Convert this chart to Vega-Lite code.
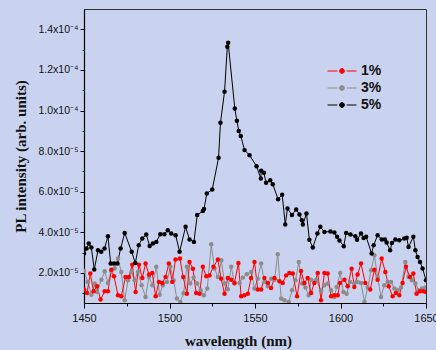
{
  "$schema": "https://vega.github.io/schema/vega-lite/v6.json",
  "width": 342,
  "height": 294,
  "autosize": "none",
  "padding": {"left": 84, "top": 9, "right": 10, "bottom": 47},
  "background": "#c9d3ef",
  "config": {
    "view": {"stroke": "#333333", "strokeWidth": 1},
    "axis": {"labelFont": "Liberation Sans", "titleFont": "Liberation Serif", "titleFontWeight": "bold", "titleFontSize": 15, "labelColor": "#111111", "titleColor": "#111111", "domainColor": "#000000", "tickColor": "#000000", "domainWidth": 1.2, "tickWidth": 1, "grid": false}
  },
  "data": {"values": [
    {"s":"3%","w":1450,"I":2.1},{"s":"3%","w":1452.3,"I":1.56},{"s":"3%","w":1454.3,"I":0.93},{"s":"3%","w":1456.3,"I":1.48},{"s":"3%","w":1457.6,"I":1.06},{"s":"3%","w":1460.2,"I":1.67},{"s":"3%","w":1462.1,"I":2.08},{"s":"3%","w":1464,"I":1.51},{"s":"3%","w":1466,"I":2.1},{"s":"3%","w":1467.9,"I":2.22},{"s":"3%","w":1469.9,"I":2.71},{"s":"3%","w":1471.8,"I":2.05},{"s":"3%","w":1473.8,"I":0.65},{"s":"3%","w":1475.7,"I":1.64},{"s":"3%","w":1477.7,"I":2.05},{"s":"3%","w":1479.6,"I":1.64},{"s":"3%","w":1481.5,"I":2.05},{"s":"3%","w":1483.7,"I":1.4},{"s":"3%","w":1486,"I":0.82},{"s":"3%","w":1488,"I":1.8},{"s":"3%","w":1490,"I":1.39},{"s":"3%","w":1492.3,"I":2.3},{"s":"3%","w":1494.2,"I":0.93},{"s":"3%","w":1496.1,"I":1.39},{"s":"3%","w":1498.5,"I":1.56},{"s":"3%","w":1500.5,"I":2.3},{"s":"3%","w":1502.4,"I":1.64},{"s":"3%","w":1504.3,"I":0.74},{"s":"3%","w":1506.3,"I":0.57},{"s":"3%","w":1508.2,"I":1.0},{"s":"3%","w":1510.2,"I":2.3},{"s":"3%","w":1512.1,"I":1.48},{"s":"3%","w":1514.1,"I":1.77},{"s":"3%","w":1516.2,"I":1.48},{"s":"3%","w":1518.2,"I":1.15},{"s":"3%","w":1520.1,"I":0.9},{"s":"3%","w":1522.1,"I":1.23},{"s":"3%","w":1524.4,"I":3.41},{"s":"3%","w":1526.3,"I":2.22},{"s":"3%","w":1528.3,"I":1.8},{"s":"3%","w":1530.3,"I":2.63},{"s":"3%","w":1532.2,"I":1.48},{"s":"3%","w":1534.1,"I":1.2},{"s":"3%","w":1536.1,"I":2.3},{"s":"3%","w":1538,"I":1.48},{"s":"3%","w":1541,"I":1.51},{"s":"3%","w":1542.9,"I":1.77},{"s":"3%","w":1545.2,"I":1.94},{"s":"3%","w":1547.8,"I":2.05},{"s":"3%","w":1549.7,"I":1.23},{"s":"3%","w":1551.6,"I":1.72},{"s":"3%","w":1553.6,"I":2.46},{"s":"3%","w":1555.5,"I":1.56},{"s":"3%","w":1557.5,"I":1.34},{"s":"3%","w":1559.5,"I":1.72},{"s":"3%","w":1561.4,"I":1.67},{"s":"3%","w":1563.3,"I":2.92},{"s":"3%","w":1565.3,"I":0.74},{"s":"3%","w":1567.2,"I":0.65},{"s":"3%","w":1569.7,"I":0.57},{"s":"3%","w":1571.7,"I":1.15},{"s":"3%","w":1573.7,"I":1.64},{"s":"3%","w":1575.6,"I":2.54},{"s":"3%","w":1577.6,"I":1.48},{"s":"3%","w":1579.5,"I":1.28},{"s":"3%","w":1581.4,"I":0.9},{"s":"3%","w":1582.8,"I":1.67},{"s":"3%","w":1585.7,"I":1.64},{"s":"3%","w":1588.7,"I":1.15},{"s":"3%","w":1590.6,"I":1.39},{"s":"3%","w":1592.5,"I":1.48},{"s":"3%","w":1594.5,"I":1.15},{"s":"3%","w":1596.4,"I":0.82},{"s":"3%","w":1597.8,"I":1.31},{"s":"3%","w":1599.8,"I":2.0},{"s":"3%","w":1601.7,"I":1.06},{"s":"3%","w":1603.6,"I":0.98},{"s":"3%","w":1605.6,"I":1.56},{"s":"3%","w":1608.1,"I":1.48},{"s":"3%","w":1610,"I":1.56},{"s":"3%","w":1612,"I":1.51},{"s":"3%","w":1614,"I":0.57},{"s":"3%","w":1615.9,"I":1.28},{"s":"3%","w":1617.9,"I":2.13},{"s":"3%","w":1619.8,"I":2.87},{"s":"3%","w":1621.7,"I":1.8},{"s":"3%","w":1623.7,"I":0.82},{"s":"3%","w":1625.6,"I":1.39},{"s":"3%","w":1627.6,"I":1.56},{"s":"3%","w":1629.6,"I":1.56},{"s":"3%","w":1631.5,"I":1.23},{"s":"3%","w":1633.4,"I":1.15},{"s":"3%","w":1635.4,"I":1.28},{"s":"3%","w":1637.9,"I":2.54},{"s":"3%","w":1639.8,"I":1.8},{"s":"3%","w":1641.8,"I":1.64},{"s":"3%","w":1643.8,"I":1.48},{"s":"3%","w":1645.7,"I":1.15},{"s":"3%","w":1647.7,"I":1.23},{"s":"3%","w":1649.6,"I":1.28},
    {"s":"1%","w":1450,"I":1.18},{"s":"1%","w":1451.8,"I":1.01},{"s":"1%","w":1453.7,"I":1.97},{"s":"1%","w":1455.6,"I":1.1},{"s":"1%","w":1457.6,"I":1.34},{"s":"1%","w":1459.7,"I":0.69},{"s":"1%","w":1462.1,"I":1.1},{"s":"1%","w":1464,"I":1.1},{"s":"1%","w":1466,"I":2.16},{"s":"1%","w":1467.5,"I":1.84},{"s":"1%","w":1469.9,"I":0.9},{"s":"1%","w":1471.8,"I":0.85},{"s":"1%","w":1474.3,"I":1.8},{"s":"1%","w":1476.3,"I":1.8},{"s":"1%","w":1478.2,"I":2.41},{"s":"1%","w":1480.2,"I":1.06},{"s":"1%","w":1482.1,"I":2.41},{"s":"1%","w":1484.1,"I":1.75},{"s":"1%","w":1486,"I":2.46},{"s":"1%","w":1488,"I":1.92},{"s":"1%","w":1489.9,"I":2.0},{"s":"1%","w":1491.9,"I":0.85},{"s":"1%","w":1493.8,"I":1.56},{"s":"1%","w":1495.8,"I":1.51},{"s":"1%","w":1497.7,"I":1.8},{"s":"1%","w":1499.6,"I":2.46},{"s":"1%","w":1501.6,"I":1.56},{"s":"1%","w":1503.5,"I":2.66},{"s":"1%","w":1506.1,"I":2.71},{"s":"1%","w":1508,"I":1.8},{"s":"1%","w":1510.2,"I":0.98},{"s":"1%","w":1511.7,"I":2.54},{"s":"1%","w":1513.7,"I":2.21},{"s":"1%","w":1515.6,"I":1.01},{"s":"1%","w":1517.6,"I":0.98},{"s":"1%","w":1519.5,"I":2.3},{"s":"1%","w":1521.5,"I":1.84},{"s":"1%","w":1523.4,"I":1.88},{"s":"1%","w":1525.7,"I":2.3},{"s":"1%","w":1528.3,"I":2.66},{"s":"1%","w":1530.2,"I":1.72},{"s":"1%","w":1532.2,"I":0.98},{"s":"1%","w":1534.1,"I":1.75},{"s":"1%","w":1536.1,"I":1.67},{"s":"1%","w":1538,"I":1.51},{"s":"1%","w":1540.3,"I":2.49},{"s":"1%","w":1541.9,"I":0.85},{"s":"1%","w":1543.8,"I":0.9},{"s":"1%","w":1545.8,"I":0.98},{"s":"1%","w":1547.7,"I":1.75},{"s":"1%","w":1549.7,"I":2.54},{"s":"1%","w":1551.6,"I":1.18},{"s":"1%","w":1553.6,"I":1.18},{"s":"1%","w":1555.5,"I":1.75},{"s":"1%","w":1557.5,"I":1.51},{"s":"1%","w":1559.4,"I":1.26},{"s":"1%","w":1561.4,"I":1.75},{"s":"1%","w":1564.3,"I":1.59},{"s":"1%","w":1566.2,"I":1.51},{"s":"1%","w":1568.2,"I":1.88},{"s":"1%","w":1570.1,"I":2.0},{"s":"1%","w":1572.1,"I":1.97},{"s":"1%","w":1574.6,"I":0.85},{"s":"1%","w":1576.9,"I":2.1},{"s":"1%","w":1578.9,"I":1.51},{"s":"1%","w":1580.8,"I":1.75},{"s":"1%","w":1582.8,"I":1.01},{"s":"1%","w":1584.7,"I":1.51},{"s":"1%","w":1586.7,"I":2.0},{"s":"1%","w":1588.6,"I":0.65},{"s":"1%","w":1590.6,"I":2.0},{"s":"1%","w":1592.5,"I":1.97},{"s":"1%","w":1594.5,"I":0.85},{"s":"1%","w":1596.4,"I":0.9},{"s":"1%","w":1598.4,"I":0.9},{"s":"1%","w":1599.7,"I":1.51},{"s":"1%","w":1602.3,"I":1.67},{"s":"1%","w":1604.2,"I":1.34},{"s":"1%","w":1606.5,"I":2.21},{"s":"1%","w":1608.1,"I":1.31},{"s":"1%","w":1610,"I":1.92},{"s":"1%","w":1612,"I":2.46},{"s":"1%","w":1614.5,"I":1.51},{"s":"1%","w":1617.4,"I":1.18},{"s":"1%","w":1619.8,"I":2.16},{"s":"1%","w":1621.7,"I":1.67},{"s":"1%","w":1624.1,"I":2.71},{"s":"1%","w":1626.2,"I":2.05},{"s":"1%","w":1628.2,"I":1.34},{"s":"1%","w":1630.5,"I":0.85},{"s":"1%","w":1632.4,"I":1.01},{"s":"1%","w":1634.4,"I":0.9},{"s":"1%","w":1636.3,"I":1.51},{"s":"1%","w":1638.3,"I":2.3},{"s":"1%","w":1640.6,"I":1.8},{"s":"1%","w":1642.6,"I":1.97},{"s":"1%","w":1644.5,"I":0.98},{"s":"1%","w":1646.5,"I":1.1},{"s":"1%","w":1648.4,"I":1.1},{"s":"1%","w":1650,"I":1.06},
    {"s":"5%","w":1450,"I":2.96},{"s":"5%","w":1451.5,"I":3.2},{"s":"5%","w":1452.8,"I":3.45},{"s":"5%","w":1454.3,"I":3.25},{"s":"5%","w":1456,"I":2.17},{"s":"5%","w":1458.2,"I":3.12},{"s":"5%","w":1460.1,"I":3.04},{"s":"5%","w":1462,"I":3.2},{"s":"5%","w":1464,"I":3.81},{"s":"5%","w":1465.6,"I":2.46},{"s":"5%","w":1467.5,"I":2.46},{"s":"5%","w":1469.5,"I":2.46},{"s":"5%","w":1471.4,"I":3.2},{"s":"5%","w":1473.8,"I":3.97},{"s":"5%","w":1477.9,"I":3.04},{"s":"5%","w":1480,"I":2.49},{"s":"5%","w":1482,"I":3.37},{"s":"5%","w":1484.1,"I":3.7},{"s":"5%","w":1486.4,"I":3.89},{"s":"5%","w":1488.4,"I":3.33},{"s":"5%","w":1490.3,"I":3.45},{"s":"5%","w":1492.3,"I":3.53},{"s":"5%","w":1494.6,"I":3.91},{"s":"5%","w":1497,"I":3.91},{"s":"5%","w":1499,"I":4.1},{"s":"5%","w":1501,"I":3.94},{"s":"5%","w":1503.6,"I":3.86},{"s":"5%","w":1505.9,"I":3.04},{"s":"5%","w":1509.4,"I":4.27},{"s":"5%","w":1511.7,"I":3.65},{"s":"5%","w":1514.3,"I":3.53},{"s":"5%","w":1516.2,"I":4.85},{"s":"5%","w":1519.5,"I":5.05},{"s":"5%","w":1520.2,"I":5.15},{"s":"5%","w":1521.8,"I":5.91},{"s":"5%","w":1525,"I":6.11},{"s":"5%","w":1528.7,"I":7.67},{"s":"5%","w":1529.8,"I":9.4},{"s":"5%","w":1532.2,"I":10.93},{"s":"5%","w":1533.8,"I":13.14},{"s":"5%","w":1534.3,"I":13.34},{"s":"5%","w":1538.2,"I":10.1},{"s":"5%","w":1539.4,"I":9.5},{"s":"5%","w":1540.5,"I":8.99},{"s":"5%","w":1541.7,"I":8.74},{"s":"5%","w":1543.9,"I":8.05},{"s":"5%","w":1546.8,"I":7.8},{"s":"5%","w":1550.9,"I":7.26},{"s":"5%","w":1553.4,"I":6.65},{"s":"5%","w":1553.6,"I":7.03},{"s":"5%","w":1555.2,"I":6.93},{"s":"5%","w":1556.5,"I":6.44},{"s":"5%","w":1558.9,"I":6.57},{"s":"5%","w":1560.4,"I":6.37},{"s":"5%","w":1563.5,"I":5.63},{"s":"5%","w":1565.9,"I":5.85},{"s":"5%","w":1567.7,"I":4.39},{"s":"5%","w":1569,"I":5.18},{"s":"5%","w":1571.6,"I":4.85},{"s":"5%","w":1574.1,"I":5.13},{"s":"5%","w":1576,"I":4.88},{"s":"5%","w":1577.4,"I":4.6},{"s":"5%","w":1578,"I":4.39},{"s":"5%","w":1580.1,"I":4.93},{"s":"5%","w":1581.8,"I":3.63},{"s":"5%","w":1583.8,"I":3.25},{"s":"5%","w":1586.5,"I":3.94},{"s":"5%","w":1588.2,"I":4.27},{"s":"5%","w":1590.6,"I":4.02},{"s":"5%","w":1594.1,"I":4.04},{"s":"5%","w":1596.4,"I":3.99},{"s":"5%","w":1598,"I":3.78},{"s":"5%","w":1599.4,"I":3.6},{"s":"5%","w":1601.9,"I":3.32},{"s":"5%","w":1603.3,"I":3.97},{"s":"5%","w":1605.8,"I":3.89},{"s":"5%","w":1608.7,"I":3.81},{"s":"5%","w":1609.7,"I":3.63},{"s":"5%","w":1612,"I":3.94},{"s":"5%","w":1613.5,"I":3.72},{"s":"5%","w":1615,"I":3.78},{"s":"5%","w":1618.2,"I":2.96},{"s":"5%","w":1619.4,"I":3.37},{"s":"5%","w":1621.7,"I":3.86},{"s":"5%","w":1624.1,"I":3.65},{"s":"5%","w":1626,"I":3.65},{"s":"5%","w":1627,"I":3.5},{"s":"5%","w":1629,"I":3.12},{"s":"5%","w":1630.1,"I":3.48},{"s":"5%","w":1632.1,"I":3.65},{"s":"5%","w":1634.4,"I":3.61},{"s":"5%","w":1637.3,"I":3.7},{"s":"5%","w":1638.7,"I":3.73},{"s":"5%","w":1639.8,"I":3.28},{"s":"5%","w":1642.6,"I":3.78},{"s":"5%","w":1643.8,"I":3.12},{"s":"5%","w":1645.1,"I":2.79},{"s":"5%","w":1646.5,"I":2.54},{"s":"5%","w":1648,"I":2.22},{"s":"5%","w":1650,"I":1.64}
  ]},
  "encoding": {
    "x": {"field": "w", "type": "quantitative", "scale": {"domain": [1450, 1650], "nice": false, "zero": false},
      "axis": {"title": "wavelength (nm)", "values": [1450,1475,1500,1525,1550,1575,1600,1625,1650], "labelExpr": "datum.value % 50 == 0 ? format(datum.value, 'd') : ''", "labelFontSize": 11, "labelPadding": 4, "labelFlush": false, "tickSize": {"condition": {"test": "datum.value % 50 == 0", "value": 5}, "value": 3}, "titleX": 154, "titleY": 42, "titleBaseline": "alphabetic"}},
    "y": {"field": "I", "type": "quantitative", "scale": {"domain": [0.52, 15], "nice": false, "zero": false},
      "axis": {"title": "PL intensity (arb. units)", "values": [1,2,3,4,5,6,7,8,9,10,11,12,13,14], "labelExpr": "datum.value % 2 != 0 ? '' : (datum.value >= 10 ? format(datum.value/10, '.1f') + 'x10⁻⁴' : format(datum.value, '.1f') + 'x10⁻⁵')", "labelFontSize": 10.5, "labelPadding": 2, "tickSize": {"condition": {"test": "datum.value % 2 == 0", "value": 4}, "value": 2}, "titleX": -64, "titleY": 147, "titleBaseline": "middle"}},
    "color": {"field": "s", "type": "nominal", "scale": {"domain": ["1%", "3%", "5%"], "range": ["#ff0000", "#8c8c8c", "#000000"]},
      "legend": {"title": null, "orient": "none", "legendX": 249, "legendY": 53, "padding": 0,
          "symbolType": "M-1.7,0H-0.55M0.55,0H1.7M0.28,0A0.28,0.28 0 1,1 -0.28,0A0.28,0.28 0 1,1 0.28,0Z",
          "symbolSize": 289, "symbolStrokeWidth": 1, "labelFont": "Liberation Sans", "labelFontWeight": "bold", "labelFontSize": 14, "labelColor": "#111111", "labelOffset": 10, "rowPadding": 1,
          "encode": {"symbols": {"update": {"stroke": {"scale": "color", "field": "value"}, "fill": {"scale": "color", "field": "value"}, "strokeWidth": {"value": 1}, "opacity": {"value": 1}}}}}}
  },
  "layer": [
    {"mark": {"type": "line", "strokeWidth": 1, "clip": true}},
    {"mark": {"type": "point", "filled": true, "size": 20, "opacity": 1, "clip": true}}
  ]
}
